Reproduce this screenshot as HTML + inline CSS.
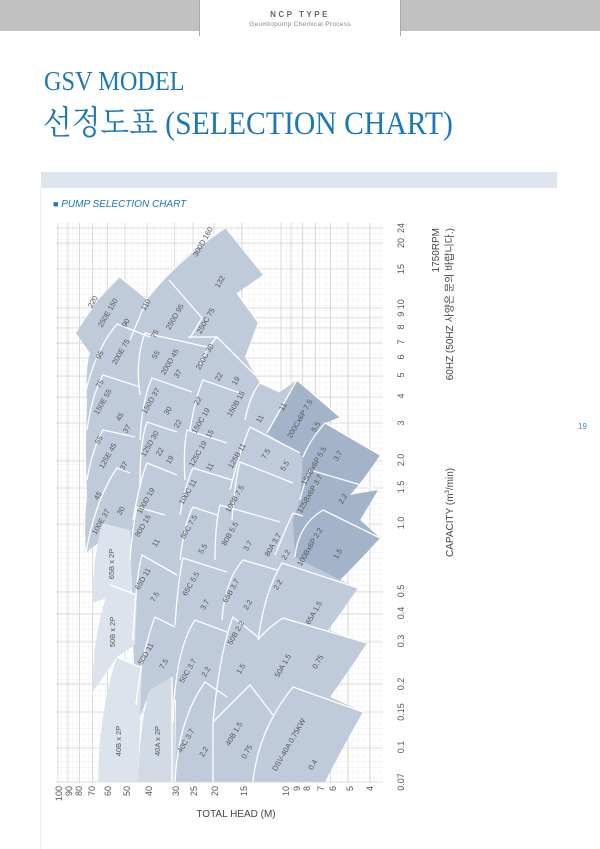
<!DOCTYPE html>
<html><head><meta charset="utf-8"><style>
html,body{margin:0;padding:0;background:#fff;}
body{width:600px;height:849px;position:relative;overflow:hidden;font-family:"Liberation Sans","Noto Sans CJK KR",sans-serif;}
.t{position:absolute;white-space:nowrap;}
</style></head><body>
<div style="position:absolute;left:0;top:0;width:200px;height:31px;background:#c1c1c1;"></div>
<div style="position:absolute;left:400px;top:0;width:200px;height:31px;background:#c1c1c1;"></div>
<div style="position:absolute;left:199px;top:0;width:200px;height:36px;background:#fff;border-left:1px solid #aaa;border-right:1px solid #aaa;"></div>
<div class="t" style="left:200px;width:200px;text-align:center;top:10px;font-size:8px;font-weight:bold;letter-spacing:2.5px;color:#666;">NCP TYPE</div>
<div class="t" style="left:200px;width:200px;text-align:center;top:21px;font-size:6.5px;color:#888;letter-spacing:0.3px;">Geumtopump Chemical Process</div>
<div class="t" style="left:44px;top:66px;font-family:'Liberation Serif','Noto Serif CJK SC',serif;font-size:27px;color:#1c78b4;transform:scaleX(0.9);transform-origin:left;">GSV MODEL</div>
<div class="t" style="left:43px;top:97px;font-family:'Liberation Serif','Noto Serif CJK SC',serif;font-size:33px;color:#1c78b4;transform:scaleX(0.9);transform-origin:left;">선정도표 (SELECTION CHART)</div>
<div style="position:absolute;left:41px;top:172px;width:516px;height:16px;background:#dfe5ee;"></div>
<div style="position:absolute;left:40px;top:188px;width:1px;height:661px;background:#eee;"></div>
<div class="t" style="left:53px;top:199px;font-size:10px;font-style:italic;color:#1c78b4;"><span style="font-style:normal;font-size:9px;">■</span> PUMP SELECTION CHART</div>
<div class="t" style="left:578px;top:422px;font-size:8px;color:#3a8cc4;">19</div>

<svg style="position:absolute;left:0;top:0" width="600" height="849" viewBox="0 0 600 849" font-family="Liberation Sans, sans-serif">
<defs>
<pattern id="g" x="56" y="223" width="5.5" height="5.5" patternUnits="userSpaceOnUse">
<path d="M5.5 0V5.5H0" fill="none" stroke="#e8e8e8" stroke-width="0.6"/>
</pattern>
</defs>
<rect x="56" y="223" width="327" height="560" fill="url(#g)"/>
<g stroke="#d4d4d4" stroke-width="0.8">
<line x1="58" y1="223" x2="58" y2="783"/><line x1="68" y1="223" x2="68" y2="783"/><line x1="79.6" y1="223" x2="79.6" y2="783"/><line x1="92.5" y1="223" x2="92.5" y2="783"/><line x1="107.5" y1="223" x2="107.5" y2="783"/><line x1="125" y1="223" x2="125" y2="783"/><line x1="147" y1="223" x2="147" y2="783"/><line x1="174.6" y1="223" x2="174.6" y2="783"/><line x1="193" y1="223" x2="193" y2="783"/><line x1="214" y1="223" x2="214" y2="783"/><line x1="241.8" y1="223" x2="241.8" y2="783"/><line x1="281" y1="223" x2="281" y2="783"/><line x1="291" y1="223" x2="291" y2="783"/><line x1="302.6" y1="223" x2="302.6" y2="783"/><line x1="315.5" y1="223" x2="315.5" y2="783"/><line x1="330.5" y1="223" x2="330.5" y2="783"/><line x1="348" y1="223" x2="348" y2="783"/><line x1="370" y1="223" x2="370" y2="783"/>
<line x1="56" x2="383" y1="782" y2="782"/><line x1="56" x2="383" y1="748" y2="748"/><line x1="56" x2="383" y1="712" y2="712"/><line x1="56" x2="383" y1="684" y2="684"/><line x1="56" x2="383" y1="642" y2="642"/><line x1="56" x2="383" y1="614" y2="614"/><line x1="56" x2="383" y1="592" y2="592"/><line x1="56" x2="383" y1="524" y2="524"/><line x1="56" x2="383" y1="488" y2="488"/><line x1="56" x2="383" y1="461" y2="461"/><line x1="56" x2="383" y1="423" y2="423"/><line x1="56" x2="383" y1="397" y2="397"/><line x1="56" x2="383" y1="376" y2="376"/><line x1="56" x2="383" y1="358" y2="358"/><line x1="56" x2="383" y1="343" y2="343"/><line x1="56" x2="383" y1="328" y2="328"/><line x1="56" x2="383" y1="318" y2="318"/><line x1="56" x2="383" y1="308" y2="308"/><line x1="56" x2="383" y1="269" y2="269"/><line x1="56" x2="383" y1="243" y2="243"/><line x1="56" x2="383" y1="228" y2="228"/>
</g>

<path fill="#bfcadb" d="M76,333 L98,300 L120,277 L147,299 Q180,255 225,228 L263,275 L237,293 L258,322 L245,357 L255,375 L260,383 L280,392 L297,380 L340,417 L325,423 L380,455 Q365,478 350,495 L378,490 L360,520 L380,538 Q360,560 340,580 L358,588 Q343,610 328,630 L367,643 Q348,672 330,697 L363,712 Q342,748 325,782 L175,782 L176,700 L150,690 L140,717 L138,782 L135,782 L136,705 L133,640 L132,590 L130,530 Q105,535 86,553 Q84,520 87,497 Q85,450 87,400 Q85,370 90,353 Z"/>
<path fill="#a3b3c9" d="M267,433 L297,380 L340,417 L325,423 L380,455 Q365,478 350,495 L378,490 L360,520 L380,538 Q360,560 340,580 L295,557 L293,520 L300,500 L303,457 Z"/>
<path fill="#dde3ec" d="M92,603 Q93,560 102,523 L130,530 L132,590 Z"/>
<path fill="#dde3ec" d="M92,693 Q93,630 110,585 L137,595 L135,645 L117,657 Z"/>
<path fill="#dde3ec" d="M98,782 Q99,710 117,657 L142,668 L140,717 L138,782 Z"/>
<path fill="#d2dae6" d="M138,782 Q140,720 150,690 L172,677 Q176,720 175,782 Z"/>

<g fill="none" stroke="#fff" stroke-width="1.3">
<path d="M120,277 L147,299 L130,340 M169,280 L202,318 L190,338 M237,293 L258,322 M147,299 Q175,262 225,228"/>
<path d="M85,395 Q95,350 117,324 L150,337 M140,395 Q135,360 145,333 L207,347 M200,365 Q205,350 217,337 L255,375 M188,337 L217,337"/>
<path d="M87,430 Q92,395 103,375 L140,387 M140,440 Q142,400 152,378 L192,392 M190,430 Q195,398 203,380 L240,393 M245,420 Q250,395 260,383 L280,392"/>
<path d="M87,480 Q92,450 103,430 L135,437 M140,485 Q140,440 147,422 L177,432 M185,480 Q183,450 187,430 L227,443 M230,490 Q240,450 250,427 L300,453"/>
<path d="M86,553 Q95,500 117,468 L130,473 M133,520 Q140,480 147,463 L177,475 M180,515 Q185,485 193,468 L232,480 M232,520 Q235,480 240,462 L293,483"/>
<path d="M130,560 Q132,530 137,507 L165,515 M180,560 Q185,520 193,507 L217,515 M215,560 Q215,525 220,505 L280,522 M275,555 Q285,530 293,513 L303,516"/>
<path d="M133,640 Q136,575 142,555 L177,575 M175,625 Q178,580 183,558 L227,572 M222,620 Q225,580 243,560 L277,570 M258,640 Q265,590 282,563 L358,588"/>
<path d="M110,585 L137,595 M136,705 Q142,650 155,617 L175,627 M173,723 Q175,650 195,620 L227,632 M213,722 Q220,650 233,617 L258,637 M258,640 Q265,630 283,618 L367,643"/>
<path d="M117,657 L142,668 M172,677 L172,782 M175,782 Q178,720 205,682 L227,697 M213,782 L213,722 L250,685 L273,715 M253,782 Q258,730 293,687 L363,712"/>
<path d="M267,433 L297,380 L340,417 M303,457 Q310,440 325,423 L380,455 M300,500 Q305,480 310,470 L378,490 M295,557 Q298,525 323,510 L380,538"/>
</g>

<g font-size="7.5" fill="#555" text-anchor="middle">
<text transform="translate(205,243) rotate(-60)">300D 160</text>
<text transform="translate(222,283) rotate(-60)">132</text>
<text transform="translate(95,303) rotate(-60)">220</text>
<text transform="translate(110,314) rotate(-60)">250E 150</text>
<text transform="translate(128,324) rotate(-60)">90</text>
<text transform="translate(148,306) rotate(-60)">110</text>
<text transform="translate(177,318) rotate(-60)">250D 95</text>
<text transform="translate(208,322) rotate(-60)">250C 75</text>
<text transform="translate(102,356) rotate(-60)">95</text>
<text transform="translate(123,353) rotate(-60)">200E 75</text>
<text transform="translate(157,335) rotate(-60)">75</text>
<text transform="translate(158,356) rotate(-60)">55</text>
<text transform="translate(172,363) rotate(-60)">200D 45</text>
<text transform="translate(180,375) rotate(-60)">37</text>
<text transform="translate(207,358) rotate(-60)">200C 30</text>
<text transform="translate(221,378) rotate(-60)">22</text>
<text transform="translate(238,382) rotate(-60)">19</text>
<text transform="translate(102,385) rotate(-60)">75</text>
<text transform="translate(105,403) rotate(-60)">150E 55</text>
<text transform="translate(122,418) rotate(-60)">45</text>
<text transform="translate(129,430) rotate(-60)">37</text>
<text transform="translate(153,402) rotate(-60)">150D 37</text>
<text transform="translate(170,412) rotate(-60)">30</text>
<text transform="translate(180,425) rotate(-60)">22</text>
<text transform="translate(200,402) rotate(-60)">22</text>
<text transform="translate(203,422) rotate(-60)">150C 19</text>
<text transform="translate(212,435) rotate(-60)">15</text>
<text transform="translate(238,405) rotate(-60)">150B 15</text>
<text transform="translate(262,420) rotate(-60)">11</text>
<text transform="translate(285,408) rotate(-60)">11</text>
<text transform="translate(302,420) rotate(-60)">200Cx6P 7.5</text>
<text transform="translate(318,428) rotate(-60)">5.5</text>
<text transform="translate(101,441) rotate(-60)">55</text>
<text transform="translate(110,457) rotate(-60)">125E 45</text>
<text transform="translate(126,467) rotate(-60)">37</text>
<text transform="translate(152,445) rotate(-60)">125D 30</text>
<text transform="translate(162,453) rotate(-60)">22</text>
<text transform="translate(172,461) rotate(-60)">19</text>
<text transform="translate(200,455) rotate(-60)">125C 19</text>
<text transform="translate(212,468) rotate(-60)">11</text>
<text transform="translate(239,457) rotate(-60)">125B 11</text>
<text transform="translate(268,455) rotate(-60)">7.5</text>
<text transform="translate(287,467) rotate(-60)">5.5</text>
<text transform="translate(316,467) rotate(-60)">150Bx6P 5.5</text>
<text transform="translate(340,457) rotate(-60)">3.7</text>
<text transform="translate(100,497) rotate(-60)">45</text>
<text transform="translate(103,523) rotate(-60)">100E 37</text>
<text transform="translate(123,512) rotate(-60)">30</text>
<text transform="translate(148,502) rotate(-60)">100D 19</text>
<text transform="translate(190,493) rotate(-60)">100C 11</text>
<text transform="translate(237,500) rotate(-60)">100B 7.5</text>
<text transform="translate(312,495) rotate(-60)">125Bx6P 3.7</text>
<text transform="translate(345,500) rotate(-60)">2.2</text>
<text transform="translate(145,527) rotate(-60)">80D 15</text>
<text transform="translate(158,544) rotate(-60)">11</text>
<text transform="translate(191,528) rotate(-60)">80C 7.5</text>
<text transform="translate(205,550) rotate(-60)">5.5</text>
<text transform="translate(232,535) rotate(-60)">80B 5.5</text>
<text transform="translate(250,547) rotate(-60)">3.7</text>
<text transform="translate(275,546) rotate(-60)">80A 3.7</text>
<text transform="translate(288,556) rotate(-60)">2.2</text>
<text transform="translate(312,548) rotate(-60)">100Bx6P 2.2</text>
<text transform="translate(340,555) rotate(-60)">1.5</text>
<text transform="translate(114,564) rotate(-90)">65B x 2P</text>
<text transform="translate(145,580) rotate(-60)">65D 11</text>
<text transform="translate(157,598) rotate(-60)">7.5</text>
<text transform="translate(193,585) rotate(-60)">65C 5.5</text>
<text transform="translate(207,606) rotate(-60)">3.7</text>
<text transform="translate(233,592) rotate(-60)">65B 3.7</text>
<text transform="translate(250,606) rotate(-60)">2.2</text>
<text transform="translate(280,586) rotate(-60)">2.2</text>
<text transform="translate(316,614) rotate(-60)">65A 1.5</text>
<text transform="translate(115,632) rotate(-90)">50B x 2P</text>
<text transform="translate(148,655) rotate(-60)">50D 11</text>
<text transform="translate(166,665) rotate(-60)">7.5</text>
<text transform="translate(190,672) rotate(-60)">50C 3.7</text>
<text transform="translate(208,673) rotate(-60)">2.2</text>
<text transform="translate(238,634) rotate(-60)">50B 2.2</text>
<text transform="translate(243,670) rotate(-60)">1.5</text>
<text transform="translate(285,667) rotate(-60)">50A 1.5</text>
<text transform="translate(320,663) rotate(-60)">0.75</text>
<text transform="translate(121,741) rotate(-90)">40B x 2P</text>
<text transform="translate(160,741) rotate(-90)">40A x 2P</text>
<text transform="translate(188,742) rotate(-60)">40C 3.7</text>
<text transform="translate(206,753) rotate(-60)">2.2</text>
<text transform="translate(236,735) rotate(-60)">40B 1.5</text>
<text transform="translate(249,753) rotate(-60)">0.75</text>
<text transform="translate(291,746) rotate(-60)">DSV-40A 0.75KW</text>
<text transform="translate(315,766) rotate(-60)">0.4</text>
</g>

<g font-size="9" fill="#555" text-anchor="middle">
<text transform="translate(404,228) rotate(-90)">24</text>
<text transform="translate(404,243) rotate(-90)">20</text>
<text transform="translate(404,269) rotate(-90)">15</text>
<text transform="translate(404,308) rotate(-90)">9 10</text>
<text transform="translate(404,327) rotate(-90)">8</text>
<text transform="translate(404,342) rotate(-90)">7</text>
<text transform="translate(404,357) rotate(-90)">6</text>
<text transform="translate(404,375) rotate(-90)">5</text>
<text transform="translate(404,396) rotate(-90)">4</text>
<text transform="translate(404,423) rotate(-90)">3</text>
<text transform="translate(404,460) rotate(-90)">2.0</text>
<text transform="translate(404,487) rotate(-90)">1.5</text>
<text transform="translate(404,523) rotate(-90)">1.0</text>
<text transform="translate(404,591) rotate(-90)">0.5</text>
<text transform="translate(404,613) rotate(-90)">0.4</text>
<text transform="translate(404,641) rotate(-90)">0.3</text>
<text transform="translate(404,684) rotate(-90)">0.2</text>
<text transform="translate(404,712) rotate(-90)">0.15</text>
<text transform="translate(404,747) rotate(-90)">0.1</text>
<text transform="translate(404,782) rotate(-90)">0.07</text>
</g>
<g font-size="9" fill="#555" text-anchor="end">
<text transform="translate(62,786) rotate(-90)">100</text>
<text transform="translate(72,786) rotate(-90)">90</text>
<text transform="translate(82,786) rotate(-90)">80</text>
<text transform="translate(95,786) rotate(-90)">70</text>
<text transform="translate(111,786) rotate(-90)">60</text>
<text transform="translate(130,786) rotate(-90)">50</text>
<text transform="translate(152,786) rotate(-90)">40</text>
<text transform="translate(179,786) rotate(-90)">30</text>
<text transform="translate(197,786) rotate(-90)">25</text>
<text transform="translate(218,786) rotate(-90)">20</text>
<text transform="translate(247,786) rotate(-90)">15</text>
<text transform="translate(289,786) rotate(-90)">10</text>
<text transform="translate(300,786) rotate(-90)">9</text>
<text transform="translate(310,786) rotate(-90)">8</text>
<text transform="translate(324,786) rotate(-90)">7</text>
<text transform="translate(336,786) rotate(-90)">6</text>
<text transform="translate(353,786) rotate(-90)">5</text>
<text transform="translate(373,786) rotate(-90)">4</text>
</g>
<text x="236" y="817" font-size="10" fill="#444" text-anchor="middle">TOTAL HEAD (M)</text>
<g font-size="10" fill="#444" text-anchor="end" font-family="Liberation Sans, Noto Sans CJK KR, sans-serif">
<text transform="translate(439,228) rotate(-90)">1750RPM</text>
<text transform="translate(453,228) rotate(-90)">60HZ (50HZ 사양은 문의 바랍니다.)</text>
<text transform="translate(453,557) rotate(-90)" text-anchor="start">CAPACITY (m<tspan font-size="6" dy="-4">3</tspan><tspan dy="4">/min)</tspan></text>
</g>
</svg>
</body></html>
